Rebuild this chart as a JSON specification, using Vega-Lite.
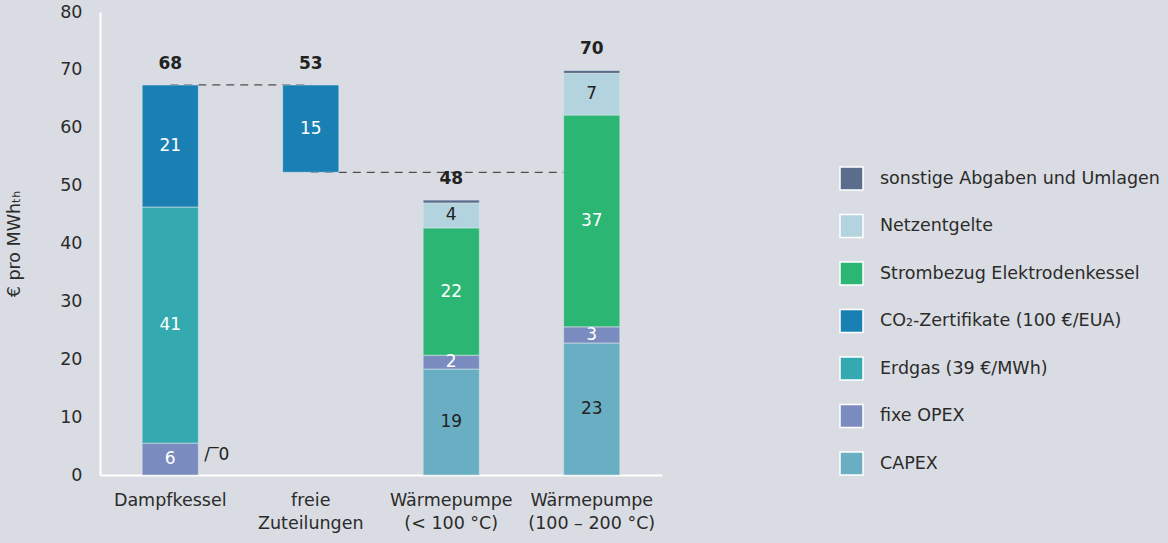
{
  "$schema": "https://vega.github.io/schema/vega-lite/v6.json",
  "width": 562,
  "height": 463,
  "autosize": {"type": "none"},
  "padding": {"left": 100, "top": 12, "right": 506, "bottom": 68},
  "background": "#d9dce2",
  "config": {
    "view": {"stroke": null},
    "font": "DejaVu Sans",
    "axis": {"labelFont": "DejaVu Sans", "titleFont": "DejaVu Sans"},
    "legend": {"labelFont": "DejaVu Sans"},
    "text": {"font": "DejaVu Sans"}
  },
  "datasets": {
    "segs": [
      {"cat": "Dampfkessel", "comp": "fixe OPEX", "start": 0, "end": 5.5, "label": "6"},
      {"cat": "Dampfkessel", "comp": "Erdgas (39 €/MWh)", "start": 5.5, "end": 46.3, "label": "41"},
      {"cat": "Dampfkessel", "comp": "CO₂-Zertifikate (100 €/EUA)", "start": 46.3, "end": 67.4, "label": "21"},
      {"cat": "freie|Zuteilungen", "comp": "CO₂-Zertifikate (100 €/EUA)", "start": 52.3, "end": 67.4, "label": "15"},
      {"cat": "Wärmepumpe|(< 100 °C)", "comp": "CAPEX", "start": 0, "end": 18.3, "label": "19"},
      {"cat": "Wärmepumpe|(< 100 °C)", "comp": "fixe OPEX", "start": 18.3, "end": 20.7, "label": "2"},
      {"cat": "Wärmepumpe|(< 100 °C)", "comp": "Strombezug Elektrodenkessel", "start": 20.7, "end": 42.7, "label": "22"},
      {"cat": "Wärmepumpe|(< 100 °C)", "comp": "Netzentgelte", "start": 42.7, "end": 47.0, "label": "4"},
      {"cat": "Wärmepumpe|(< 100 °C)", "comp": "sonstige Abgaben und Umlagen", "start": 47.0, "end": 47.5, "label": ""},
      {"cat": "Wärmepumpe|(100 – 200 °C)", "comp": "CAPEX", "start": 0, "end": 22.8, "label": "23"},
      {"cat": "Wärmepumpe|(100 – 200 °C)", "comp": "fixe OPEX", "start": 22.8, "end": 25.6, "label": "3"},
      {"cat": "Wärmepumpe|(100 – 200 °C)", "comp": "Strombezug Elektrodenkessel", "start": 25.6, "end": 62.2, "label": "37"},
      {"cat": "Wärmepumpe|(100 – 200 °C)", "comp": "Netzentgelte", "start": 62.2, "end": 69.4, "label": "7"},
      {"cat": "Wärmepumpe|(100 – 200 °C)", "comp": "sonstige Abgaben und Umlagen", "start": 69.4, "end": 69.9, "label": ""}
    ],
    "totals": [
      {"cat": "Dampfkessel", "top": 67.4, "total": "68"},
      {"cat": "freie|Zuteilungen", "top": 67.4, "total": "53"},
      {"cat": "Wärmepumpe|(< 100 °C)", "top": 47.5, "total": "48"},
      {"cat": "Wärmepumpe|(100 – 200 °C)", "top": 69.9, "total": "70"}
    ],
    "links": [
      {"from": "Dampfkessel", "to": "freie|Zuteilungen", "y": 67.4},
      {"from": "freie|Zuteilungen", "to": "Wärmepumpe|(100 – 200 °C)", "y": 52.3}
    ],
    "note": [
      {"cat": "Dampfkessel", "y": 3.4, "t": "0"}
    ]
  },
  "encoding": {
    "x": {
      "field": "cat", "type": "nominal",
      "scale": {"domain": ["Dampfkessel", "freie|Zuteilungen", "Wärmepumpe|(< 100 °C)", "Wärmepumpe|(100 – 200 °C)"], "paddingInner": 0.6, "paddingOuter": 0.3},
      "axis": {
        "title": null, "labelAngle": 0, "labelExpr": "split(datum.label, '|')",
        "domainColor": "#ffffff", "domainWidth": 2, "ticks": false,
        "labelFontSize": 17.5, "labelColor": "#2b2b2b", "labelPadding": 16, "labelLineHeight": 23
      }
    }
  },
  "layer": [
    {
      "data": {"name": "links"},
      "mark": {"type": "rule", "strokeDash": [8, 6], "color": "#2b2b2b", "strokeWidth": 1},
      "encoding": {
        "x": {"field": "from", "type": "nominal"},
        "x2": {"field": "to"},
        "y": {"field": "y", "type": "quantitative"}
      }
    },
    {
      "data": {"name": "segs"},
      "mark": {"type": "bar", "stroke": "#d9e4ea", "strokeWidth": 0.6},
      "encoding": {
        "y": {
          "field": "start", "type": "quantitative",
          "scale": {"domain": [0, 80]},
          "axis": {
            "title": "€ pro MWhₜₕ", "values": [0, 10, 20, 30, 40, 50, 60, 70, 80],
            "grid": false, "ticks": false, "domainColor": "#ffffff", "domainWidth": 2,
            "labelFontSize": 17.5, "labelColor": "#2b2b2b", "labelPadding": 18,
            "titleFontSize": 17.5, "titleFontWeight": "normal", "titleColor": "#2b2b2b", "titlePadding": 36
          }
        },
        "y2": {"field": "end"},
        "color": {
          "field": "comp", "type": "nominal",
          "scale": {
            "domain": ["sonstige Abgaben und Umlagen", "Netzentgelte", "Strombezug Elektrodenkessel", "CO₂-Zertifikate (100 €/EUA)", "Erdgas (39 €/MWh)", "fixe OPEX", "CAPEX"],
            "range": ["#5b6d8d", "#b3d4df", "#2bb673", "#1a80b4", "#34a9b0", "#7a8cbf", "#69aec3"]
          },
          "legend": {
            "title": null, "orient": "none", "legendX": 739, "legendY": 154, "padding": 0,
            "symbolType": "square", "symbolSize": 529, "symbolStrokeColor": "#ffffff", "symbolStrokeWidth": 1.5,
            "symbolOpacity": 1, "labelFontSize": 17.5, "labelColor": "#2b2b2b", "labelOffset": 16, "rowPadding": 18.5,
            "labelLimit": 400
          }
        }
      }
    },
    {
      "data": {"name": "segs"},
      "transform": [{"calculate": "(datum.start + datum.end) / 2", "as": "mid"}],
      "mark": {"type": "text", "fontSize": 17, "baseline": "middle"},
      "encoding": {
        "y": {"field": "mid", "type": "quantitative"},
        "text": {"field": "label"},
        "color": {
          "condition": {"test": "datum.comp === 'Netzentgelte' || datum.comp === 'CAPEX'", "value": "#222222"},
          "value": "#ffffff"
        }
      }
    },
    {
      "data": {"name": "totals"},
      "mark": {"type": "text", "fontSize": 17, "fontWeight": "bold", "baseline": "middle", "dy": -21, "color": "#222222"},
      "encoding": {
        "y": {"field": "top", "type": "quantitative"},
        "text": {"field": "total"}
      }
    },
    {
      "data": {"name": "note"},
      "mark": {"type": "text", "fontSize": 17, "baseline": "middle", "align": "left", "dx": 34, "color": "#222222"},
      "encoding": {
        "y": {"field": "y", "type": "quantitative"},
        "text": {"value": "/‾0"}
      }
    }
  ]
}
